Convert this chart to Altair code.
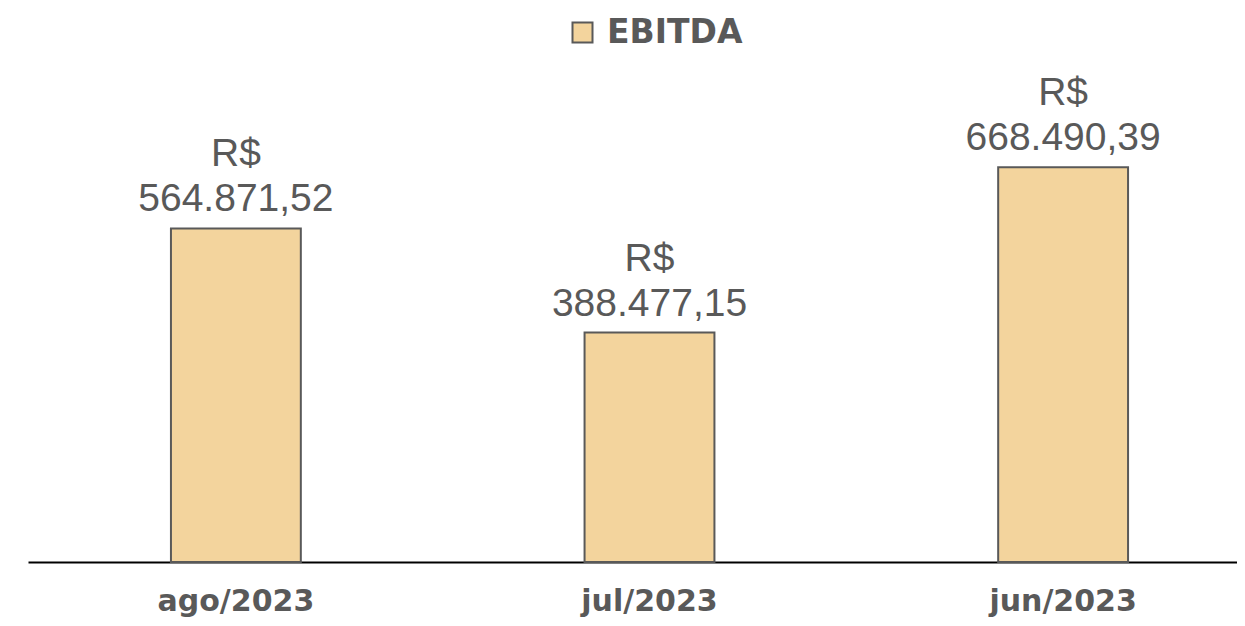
import altair as alt
import pandas as pd

months = ["ago/2023", "jul/2023", "jun/2023"]
values = [564871.52, 388477.15, 668490.39]
labels = ["R$\n564.871,52", "R$\n388.477,15", "R$\n668.490,39"]
series = ["EBITDA", "EBITDA", "EBITDA"]

df = pd.DataFrame({"mes": months, "valor": values, "rotulo": labels, "serie": series})

FONT = "Liberation Sans"
BFONT = "DejaVu Sans"
GRAY = "#595959"

x = alt.X("mes:N", sort=months, title=None,
          scale=alt.Scale(range=[0, 1243], paddingInner=0.686, paddingOuter=0.3456),
          axis=alt.Axis(labelAngle=0, labelFont=BFONT, labelFontSize=30, labelFontWeight="bold",
                        labelColor=GRAY, ticks=False, domainColor="#000000", domainWidth=2,
                        labelPadding=24, grid=False))
y = alt.Y("valor:Q", scale=alt.Scale(domain=[0, 850000], nice=False), axis=None)

bars = alt.Chart(df).mark_bar(stroke=GRAY, strokeWidth=2).encode(
    x=x, y=y,
    color=alt.Color("serie:N", scale=alt.Scale(range=["#F3D49D"]),
                    legend=alt.Legend(title=None, orient="none", legendX=538, legendY=-44,
                                      symbolType="square", symbolSize=400, symbolStrokeColor=GRAY,
                                      symbolStrokeWidth=2, labelFont=BFONT, labelFontSize=33,
                                      labelFontWeight="bold", labelColor=GRAY, labelOffset=8))
)

text = alt.Chart(df).mark_text(font=FONT, fontSize=39, color=GRAY, lineBreak="\n", lineHeight=45,
                               baseline="alphabetic", dy=-62).encode(
    x=alt.X("mes:N", sort=months), y="valor:Q", text="rotulo:N"
)

chart = alt.layer(bars, text).properties(
    width=1209, height=502,
    autosize=alt.AutoSizeParams(type="none"),
    padding={"left": 20, "top": 52, "right": 0, "bottom": 56},
).configure_view(stroke=None)

chart.save("out.html", embed_options={"renderer": "svg", "actions": False})
